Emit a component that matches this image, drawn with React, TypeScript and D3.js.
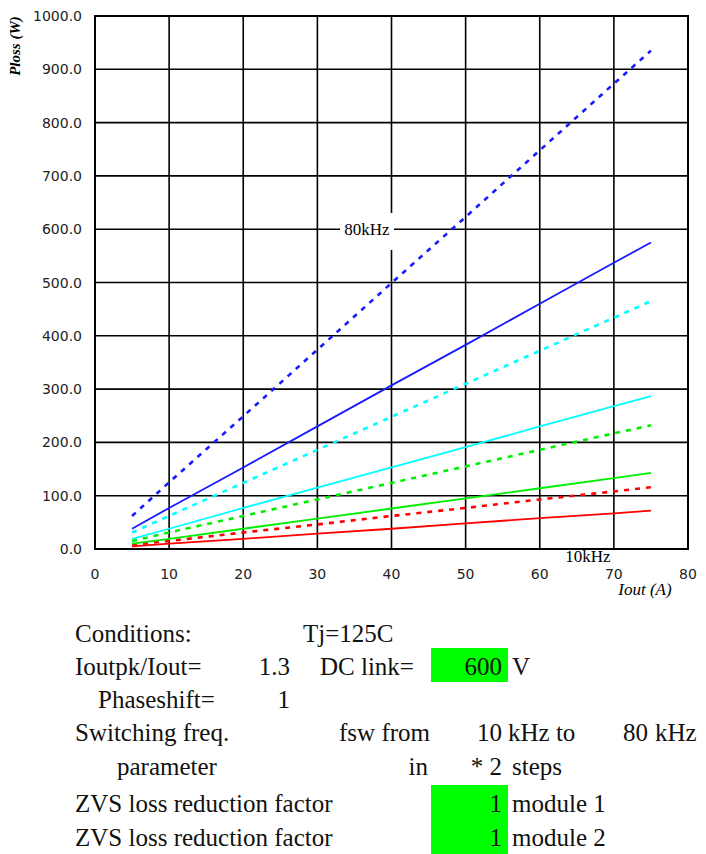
import React from 'react';
import * as d3 from 'd3';

// output current (A) sample points
const iout = [5, 10, 20, 30, 40, 50, 60, 70, 75];

// loss (W) per switching frequency, solid and dashed curves
const loss10Solid = [5, 10, 19, 29, 38, 48, 58, 67, 72];
const loss10Dashed = [8, 15, 31, 46, 62, 77, 93, 108, 116];
const loss20Solid = [10, 19, 38, 57, 76, 95, 114, 133, 143];
const loss20Dashed = [15, 31, 62, 93, 124, 155, 186, 217, 232];
const loss40Solid = [19, 38, 77, 115, 153, 191, 230, 268, 287];
const loss40Dashed = [31, 62, 124, 186, 248, 310, 372, 434, 465];
const loss80Solid = [38, 77, 153, 230, 307, 383, 460, 537, 575];
const loss80Dashed = [62, 125, 249, 374, 499, 623, 748, 873, 935];

const xTicks = [0, 10, 20, 30, 40, 50, 60, 70, 80];
const yTicks = [0, 100, 200, 300, 400, 500, 600, 700, 800, 900, 1000];

const series = [
  { name: '10kHz', values: loss10Solid, color: '#ff0000', dashed: false },
  { name: '10kHz', values: loss10Dashed, color: '#ff0000', dashed: true },
  { name: '20kHz', values: loss20Solid, color: '#00ee00', dashed: false },
  { name: '20kHz', values: loss20Dashed, color: '#00ee00', dashed: true },
  { name: '40kHz', values: loss40Solid, color: '#00ffff', dashed: false },
  { name: '40kHz', values: loss40Dashed, color: '#00ffff', dashed: true },
  { name: '80kHz', values: loss80Solid, color: '#1a1aff', dashed: false },
  { name: '80kHz', values: loss80Dashed, color: '#1a1aff', dashed: true },
];

// conditions table under the chart
const tableRows = [
  { y: 642, cells: [{ t: 'Conditions:', x: 75 }, { t: 'Tj=125C', x: 303 }] },
  { y: 675, cells: [{ t: 'Ioutpk/Iout=', x: 75 }, { t: '1.3', x: 290, end: true }, { t: 'DC link=', x: 320 }, { t: '600', x: 502, end: true }, { t: 'V', x: 512 }] },
  { y: 708, cells: [{ t: 'Phaseshift=', x: 98 }, { t: '1', x: 290, end: true }] },
  { y: 741, cells: [{ t: 'Switching freq.', x: 75 }, { t: 'fsw from', x: 430, end: true }, { t: '10', x: 502, end: true }, { t: 'kHz to', x: 508 }, { t: '80', x: 648, end: true }, { t: 'kHz', x: 655 }] },
  { y: 775, cells: [{ t: 'parameter', x: 117 }, { t: 'in', x: 428, end: true }, { t: '* 2', x: 502, end: true }, { t: 'steps', x: 512 }] },
  { y: 812, cells: [{ t: 'ZVS loss reduction factor', x: 75 }, { t: '1', x: 502, end: true }, { t: 'module 1', x: 512 }] },
  { y: 846, cells: [{ t: 'ZVS loss reduction factor', x: 75 }, { t: '1', x: 502, end: true }, { t: 'module 2', x: 512 }] },
];

const serif = { fontFamily: "'Liberation Serif', 'DejaVu Serif', serif" };
const sans = { fontFamily: "'DejaVu Sans', sans-serif" };

export default function App() {
  const x = d3.scaleLinear().domain([0, 80]).range([95, 688]);
  const y = d3.scaleLinear().domain([0, 1000]).range([549, 16]);

  const line = d3.line<number>()
    .x((d, i) => x(iout[i]))
    .y(d => y(d));

  return (
    <svg width={706} height={854} style={{ position: 'absolute', left: 0, top: 0, background: '#fff' }}>
      {/* grid */}
      {xTicks.map(t => (
        <line key={'gx' + t} x1={x(t)} x2={x(t)} y1={y(0)} y2={y(1000)} stroke="#000" strokeWidth={1.6} />
      ))}
      {yTicks.map(t => (
        <line key={'gy' + t} x1={x(0)} x2={x(80)} y1={y(t)} y2={y(t)} stroke="#000" strokeWidth={1.6} />
      ))}
      <rect x={x(0)} y={y(1000)} width={x(80) - x(0)} height={y(0) - y(1000)} fill="none" stroke="#000" strokeWidth={2} />

      {/* tick labels */}
      {yTicks.map(t => (
        <text key={'ly' + t} x={82} y={y(t)} dy="0.36em" textAnchor="end" style={sans} fontSize={14} fill="#222">
          {t.toFixed(1)}
        </text>
      ))}
      {xTicks.map(t => (
        <text key={'lx' + t} x={x(t)} y={579} textAnchor="middle" style={sans} fontSize={14} fill="#222">
          {t}
        </text>
      ))}

      {/* series */}
      {series.map((s, i) => (
        <path key={i} d={line(s.values) || ''} fill="none" stroke={s.color}
          strokeWidth={s.dashed ? 2.6 : 1.8}
          strokeDasharray={s.dashed ? '5,6' : undefined} />
      ))}

      {/* data labels */}
      <rect x={340} y={213} width={54} height={37} fill="#fff" />
      <text x={367} y={235} textAnchor="middle" style={serif} fontSize={17}>80kHz</text>
      <text x={588} y={562} textAnchor="middle" style={serif} fontSize={17}>10kHz</text>

      {/* axis titles */}
      <text transform="translate(20,46) rotate(-90)" textAnchor="middle" style={serif}
        fontStyle="italic" fontWeight="bold" fontSize={15}>Ploss (W)</text>
      <text x={645} y={595} textAnchor="middle" style={serif} fontStyle="italic" fontSize={17}>Iout (A)</text>

      {/* conditions table */}
      <rect x={431} y={648} width={77} height={34} fill="#00ff00" />
      <rect x={431} y={785} width={77} height={69} fill="#00ff00" />
      {tableRows.map((r, i) => r.cells.map((c, j) => (
        <text key={i + '-' + j} x={c.x} y={r.y} textAnchor={c.end ? 'end' : 'start'}
          style={serif} fontSize={25} fill="#111">{c.t}</text>
      )))}
    </svg>
  );
}
